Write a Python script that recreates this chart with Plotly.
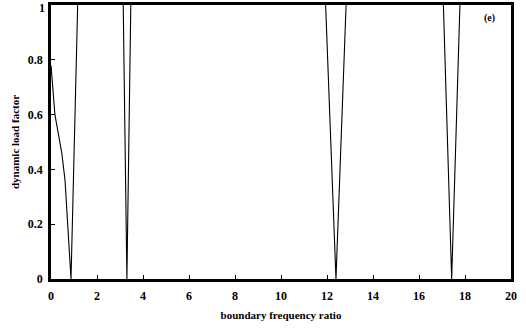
import plotly.graph_objects as go

# boundary frequency ratio vs dynamic load factor (curve leaves the 0..1 window between dips)
ratio = [0.0, 0.17, 0.47, 0.61, 0.87, 1.16, None,
         3.14, 3.30, 3.47, None,
         11.94, 12.39, 12.83, None,
         17.06, 17.42, 17.78]
dlf = [0.78, 0.60, 0.46, 0.36, 0.0, 1.0, None,
       1.0, 0.0, 1.0, None,
       1.0, 0.0, 1.0, None,
       1.0, 0.0, 1.0]

x_ticks = [0, 2, 4, 6, 8, 10, 12, 14, 16, 18, 20]
y_ticks = [0, 0.2, 0.4, 0.6, 0.8, 1]
y_labels = ["0", "0.2", "0.4", "0.6", "0.8", ""]
y_top_label = "1"

font_family = "Liberation Serif, Times New Roman, serif"

fig = go.Figure()
fig.add_trace(go.Scatter(x=ratio, y=dlf, mode="lines", connectgaps=False,
                         line=dict(color="black", width=1.1),
                         showlegend=False))

fig.update_layout(
    width=526, height=331,
    margin=dict(l=51, r=15, t=5, b=52),
    paper_bgcolor="white", plot_bgcolor="white",
    font=dict(family=font_family, color="black", size=11),
    xaxis=dict(range=[0, 20], tickvals=x_ticks, ticks="inside", ticklen=4,
               tickwidth=1, tickcolor="black", showgrid=False, zeroline=False,
               showline=True, linecolor="black", linewidth=2.5, mirror=True,
               automargin=False, ticklabeloverflow="allow", ticklabelstandoff=4,
               tickfont=dict(size=12, family=font_family, weight="bold"),
               title=dict(text="<b>boundary frequency ratio</b>",
                          font=dict(size=11, family=font_family), standoff=10)),
    yaxis=dict(range=[0, 1], tickvals=y_ticks, ticktext=y_labels,
               ticks="inside", ticklen=4, tickwidth=1, tickcolor="black",
               showgrid=False, zeroline=False,
               showline=True, linecolor="black", linewidth=2.5, mirror=True,
               automargin=False, ticklabeloverflow="allow", ticklabelstandoff=3,
               tickfont=dict(size=12, family=font_family, weight="bold"),
               title=dict(text="<b>dynamic load factor</b>",
                          font=dict(size=11, family=font_family), standoff=6)),
    annotations=[
        dict(text="<b>(e)</b>", x=0.97, y=0.982, xref="paper",
             yref="paper", xanchor="right", yanchor="top",
             showarrow=False, font=dict(size=10, family=font_family)),
        dict(text="<b>" + y_top_label + "</b>", x=0, y=1, xref="paper",
             yref="paper", xanchor="right", yanchor="top", xshift=-5, yshift=5,
             borderpad=0, showarrow=False,
             font=dict(size=12, family=font_family)),
    ],
)

fig.write_html("out.html", config={"displayModeBar": False},
               post_script="document.body.style.margin='0';document.body.style.padding='0';")
